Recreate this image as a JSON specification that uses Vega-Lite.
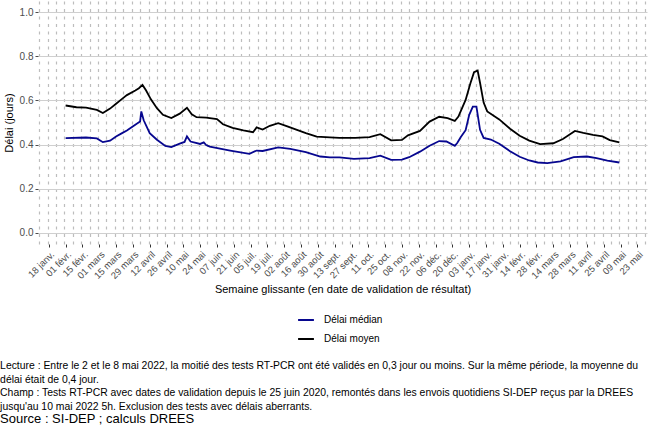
{
  "$schema": "https://vega.github.io/schema/vega-lite/v6.json",
  "width": 609,
  "height": 243,
  "autosize": "none",
  "padding": {"left": 38, "top": 1, "right": 5, "bottom": 182},
  "background": "white",
  "config": {
    "font": "Liberation Sans",
    "view": {"stroke": null},
    "axis": {"labelFont": "Liberation Sans", "titleFont": "Liberation Sans"},
    "legend": {"labelFont": "Liberation Sans"}
  },
  "title": {
    "text": [
      "Lecture : Entre le 2 et le 8 mai 2022, la moitié des tests RT-PCR ont été validés en 0,3 jour ou moins. Sur la même période, la moyenne du",
      "délai était de 0,4 jour.",
      "Champ : Tests RT-PCR avec dates de validation depuis le 25 juin 2020, remontés dans les envois quotidiens SI-DEP reçus par la DREES",
      "jusqu'au 10 mai 2022 5h. Exclusion des tests avec délais aberrants."
    ],
    "subtitle": "Source : SI-DEP ; calculs DREES",
    "orient": "bottom",
    "anchor": "start",
    "frame": "bounds",
    "fontSize": 10.4,
    "fontWeight": "normal",
    "lineHeight": 13.6,
    "color": "#000000",
    "subtitleFontSize": 13,
    "subtitleColor": "#000000",
    "subtitlePadding": 1,
    "offset": 17,
    "dx": -3
  },
  "data": {
    "values": [
      {"date": "2021-02-01", "serie": "Délai moyen", "valeur": 0.577},
      {"date": "2021-02-10", "serie": "Délai moyen", "valeur": 0.569},
      {"date": "2021-02-18", "serie": "Délai moyen", "valeur": 0.567},
      {"date": "2021-02-27", "serie": "Délai moyen", "valeur": 0.557},
      {"date": "2021-03-04", "serie": "Délai moyen", "valeur": 0.543},
      {"date": "2021-03-10", "serie": "Délai moyen", "valeur": 0.563},
      {"date": "2021-03-15", "serie": "Délai moyen", "valeur": 0.585},
      {"date": "2021-03-20", "serie": "Délai moyen", "valeur": 0.607},
      {"date": "2021-03-24", "serie": "Délai moyen", "valeur": 0.624},
      {"date": "2021-03-31", "serie": "Délai moyen", "valeur": 0.645},
      {"date": "2021-04-03", "serie": "Délai moyen", "valeur": 0.655},
      {"date": "2021-04-06", "serie": "Délai moyen", "valeur": 0.670},
      {"date": "2021-04-09", "serie": "Délai moyen", "valeur": 0.645},
      {"date": "2021-04-13", "serie": "Délai moyen", "valeur": 0.605},
      {"date": "2021-04-18", "serie": "Délai moyen", "valeur": 0.565},
      {"date": "2021-04-23", "serie": "Délai moyen", "valeur": 0.535},
      {"date": "2021-04-30", "serie": "Délai moyen", "valeur": 0.520},
      {"date": "2021-05-07", "serie": "Délai moyen", "valeur": 0.540},
      {"date": "2021-05-13", "serie": "Délai moyen", "valeur": 0.567},
      {"date": "2021-05-17", "serie": "Délai moyen", "valeur": 0.537},
      {"date": "2021-05-21", "serie": "Délai moyen", "valeur": 0.524},
      {"date": "2021-05-29", "serie": "Délai moyen", "valeur": 0.522},
      {"date": "2021-06-07", "serie": "Délai moyen", "valeur": 0.515},
      {"date": "2021-06-12", "serie": "Délai moyen", "valeur": 0.492},
      {"date": "2021-06-20", "serie": "Délai moyen", "valeur": 0.476},
      {"date": "2021-06-29", "serie": "Délai moyen", "valeur": 0.464},
      {"date": "2021-07-07", "serie": "Délai moyen", "valeur": 0.456},
      {"date": "2021-07-10", "serie": "Délai moyen", "valeur": 0.478},
      {"date": "2021-07-15", "serie": "Délai moyen", "valeur": 0.468},
      {"date": "2021-07-21", "serie": "Délai moyen", "valeur": 0.485},
      {"date": "2021-07-28", "serie": "Délai moyen", "valeur": 0.497},
      {"date": "2021-08-04", "serie": "Délai moyen", "valeur": 0.484},
      {"date": "2021-08-12", "serie": "Délai moyen", "valeur": 0.468},
      {"date": "2021-08-20", "serie": "Délai moyen", "valeur": 0.452},
      {"date": "2021-08-29", "serie": "Délai moyen", "valeur": 0.436},
      {"date": "2021-09-09", "serie": "Délai moyen", "valeur": 0.433},
      {"date": "2021-09-17", "serie": "Délai moyen", "valeur": 0.430},
      {"date": "2021-09-30", "serie": "Délai moyen", "valeur": 0.430},
      {"date": "2021-10-12", "serie": "Délai moyen", "valeur": 0.434},
      {"date": "2021-10-21", "serie": "Délai moyen", "valeur": 0.447},
      {"date": "2021-10-30", "serie": "Délai moyen", "valeur": 0.419},
      {"date": "2021-11-08", "serie": "Délai moyen", "valeur": 0.421},
      {"date": "2021-11-13", "serie": "Délai moyen", "valeur": 0.442},
      {"date": "2021-11-23", "serie": "Délai moyen", "valeur": 0.462},
      {"date": "2021-12-01", "serie": "Délai moyen", "valeur": 0.504},
      {"date": "2021-12-09", "serie": "Délai moyen", "valeur": 0.526},
      {"date": "2021-12-16", "serie": "Délai moyen", "valeur": 0.520},
      {"date": "2021-12-22", "serie": "Délai moyen", "valeur": 0.507},
      {"date": "2021-12-25", "serie": "Délai moyen", "valeur": 0.527},
      {"date": "2021-12-31", "serie": "Délai moyen", "valeur": 0.602},
      {"date": "2022-01-04", "serie": "Délai moyen", "valeur": 0.678},
      {"date": "2022-01-07", "serie": "Délai moyen", "valeur": 0.728},
      {"date": "2022-01-10", "serie": "Délai moyen", "valeur": 0.735},
      {"date": "2022-01-12", "serie": "Délai moyen", "valeur": 0.680},
      {"date": "2022-01-15", "serie": "Délai moyen", "valeur": 0.590},
      {"date": "2022-01-18", "serie": "Délai moyen", "valeur": 0.550},
      {"date": "2022-01-28", "serie": "Délai moyen", "valeur": 0.514},
      {"date": "2022-02-06", "serie": "Délai moyen", "valeur": 0.472},
      {"date": "2022-02-14", "serie": "Délai moyen", "valeur": 0.440},
      {"date": "2022-02-22", "serie": "Délai moyen", "valeur": 0.418},
      {"date": "2022-03-03", "serie": "Délai moyen", "valeur": 0.402},
      {"date": "2022-03-14", "serie": "Délai moyen", "valeur": 0.406},
      {"date": "2022-03-22", "serie": "Délai moyen", "valeur": 0.425},
      {"date": "2022-04-01", "serie": "Délai moyen", "valeur": 0.462},
      {"date": "2022-04-08", "serie": "Délai moyen", "valeur": 0.453},
      {"date": "2022-04-16", "serie": "Délai moyen", "valeur": 0.444},
      {"date": "2022-04-24", "serie": "Délai moyen", "valeur": 0.437},
      {"date": "2022-04-30", "serie": "Délai moyen", "valeur": 0.420},
      {"date": "2022-05-08", "serie": "Délai moyen", "valeur": 0.410},
      {"date": "2021-02-01", "serie": "Délai médian", "valeur": 0.429},
      {"date": "2021-02-18", "serie": "Délai médian", "valeur": 0.432},
      {"date": "2021-02-27", "serie": "Délai médian", "valeur": 0.428},
      {"date": "2021-03-04", "serie": "Délai médian", "valeur": 0.411},
      {"date": "2021-03-10", "serie": "Délai médian", "valeur": 0.418},
      {"date": "2021-03-15", "serie": "Délai médian", "valeur": 0.437},
      {"date": "2021-03-20", "serie": "Délai médian", "valeur": 0.452},
      {"date": "2021-03-24", "serie": "Délai médian", "valeur": 0.464},
      {"date": "2021-03-31", "serie": "Délai médian", "valeur": 0.490},
      {"date": "2021-04-04", "serie": "Délai médian", "valeur": 0.505},
      {"date": "2021-04-05", "serie": "Délai médian", "valeur": 0.550},
      {"date": "2021-04-07", "serie": "Délai médian", "valeur": 0.510},
      {"date": "2021-04-12", "serie": "Délai médian", "valeur": 0.452},
      {"date": "2021-04-18", "serie": "Délai médian", "valeur": 0.422},
      {"date": "2021-04-25", "serie": "Délai médian", "valeur": 0.394},
      {"date": "2021-04-30", "serie": "Délai médian", "valeur": 0.389},
      {"date": "2021-05-07", "serie": "Délai médian", "valeur": 0.404},
      {"date": "2021-05-11", "serie": "Délai médian", "valeur": 0.412},
      {"date": "2021-05-13", "serie": "Délai médian", "valeur": 0.437},
      {"date": "2021-05-16", "serie": "Délai médian", "valeur": 0.414},
      {"date": "2021-05-24", "serie": "Délai médian", "valeur": 0.403},
      {"date": "2021-05-27", "serie": "Délai médian", "valeur": 0.410},
      {"date": "2021-05-29", "serie": "Délai médian", "valeur": 0.398},
      {"date": "2021-06-01", "serie": "Délai médian", "valeur": 0.391},
      {"date": "2021-06-18", "serie": "Délai médian", "valeur": 0.373},
      {"date": "2021-07-04", "serie": "Délai médian", "valeur": 0.358},
      {"date": "2021-07-10", "serie": "Délai médian", "valeur": 0.373},
      {"date": "2021-07-15", "serie": "Délai médian", "valeur": 0.371},
      {"date": "2021-07-28", "serie": "Délai médian", "valeur": 0.387},
      {"date": "2021-08-07", "serie": "Délai médian", "valeur": 0.381},
      {"date": "2021-08-20", "serie": "Délai médian", "valeur": 0.366},
      {"date": "2021-09-01", "serie": "Délai médian", "valeur": 0.346},
      {"date": "2021-09-09", "serie": "Délai médian", "valeur": 0.342},
      {"date": "2021-09-17", "serie": "Délai médian", "valeur": 0.342},
      {"date": "2021-09-29", "serie": "Délai médian", "valeur": 0.335},
      {"date": "2021-10-12", "serie": "Délai médian", "valeur": 0.339},
      {"date": "2021-10-21", "serie": "Délai médian", "valeur": 0.350},
      {"date": "2021-10-30", "serie": "Délai médian", "valeur": 0.331},
      {"date": "2021-11-08", "serie": "Délai médian", "valeur": 0.332},
      {"date": "2021-11-14", "serie": "Délai médian", "valeur": 0.343},
      {"date": "2021-11-23", "serie": "Délai médian", "valeur": 0.368},
      {"date": "2021-12-01", "serie": "Délai médian", "valeur": 0.395},
      {"date": "2021-12-09", "serie": "Délai médian", "valeur": 0.416},
      {"date": "2021-12-15", "serie": "Délai médian", "valeur": 0.414},
      {"date": "2021-12-22", "serie": "Délai médian", "valeur": 0.394},
      {"date": "2021-12-24", "serie": "Délai médian", "valeur": 0.407},
      {"date": "2021-12-27", "serie": "Délai médian", "valeur": 0.434},
      {"date": "2021-12-31", "serie": "Délai médian", "valeur": 0.465},
      {"date": "2022-01-03", "serie": "Délai médian", "valeur": 0.535},
      {"date": "2022-01-06", "serie": "Délai médian", "valeur": 0.572},
      {"date": "2022-01-09", "serie": "Délai médian", "valeur": 0.572},
      {"date": "2022-01-12", "serie": "Délai médian", "valeur": 0.467},
      {"date": "2022-01-15", "serie": "Délai médian", "valeur": 0.430},
      {"date": "2022-01-21", "serie": "Délai médian", "valeur": 0.423},
      {"date": "2022-01-28", "serie": "Délai médian", "valeur": 0.404},
      {"date": "2022-02-06", "serie": "Délai médian", "valeur": 0.370},
      {"date": "2022-02-14", "serie": "Délai médian", "valeur": 0.345},
      {"date": "2022-02-22", "serie": "Délai médian", "valeur": 0.328},
      {"date": "2022-03-01", "serie": "Délai médian", "valeur": 0.319},
      {"date": "2022-03-09", "serie": "Délai médian", "valeur": 0.316},
      {"date": "2022-03-20", "serie": "Délai médian", "valeur": 0.324},
      {"date": "2022-03-31", "serie": "Délai médian", "valeur": 0.343},
      {"date": "2022-04-11", "serie": "Délai médian", "valeur": 0.346},
      {"date": "2022-04-19", "serie": "Délai médian", "valeur": 0.339},
      {"date": "2022-04-28", "serie": "Délai médian", "valeur": 0.327},
      {"date": "2022-05-08", "serie": "Délai médian", "valeur": 0.319}
    ]
  },
  "encoding": {
    "y": {
      "field": "valeur",
      "type": "quantitative",
      "scale": {"domain": [-0.05, 1.05], "nice": false, "zero": false},
      "axis": {
        "values": [0, 0.2, 0.4, 0.6, 0.8, 1.0],
        "format": ".1f",
        "title": "Délai (jours)",
        "titleFontSize": 11,
        "titleFontWeight": "normal",
        "titleColor": "#000000",
        "titlePadding": 5,
        "labelFontSize": 10,
        "labelColor": "#4d4d4d",
        "labelPadding": 2,
        "tickColor": "#4d4d4d",
        "tickSize": 3,
        "domain": false,
        "grid": true,
        "gridColor": "#cfcfcf",
        "gridWidth": 1
      }
    },
    "color": {
      "field": "serie",
      "type": "nominal",
      "scale": {"domain": ["Délai médian", "Délai moyen"], "range": ["#07078f", "#000000"]},
      "legend": {
        "orient": "none",
        "legendX": 259,
        "legendY": 310,
        "title": null,
        "direction": "vertical",
        "symbolType": "stroke",
        "symbolStrokeWidth": 2,
        "symbolSize": 250,
        "labelFontSize": 10,
        "labelColor": "#000000",
        "rowPadding": 5,
        "labelOffset": 9
      }
    }
  },
  "layer": [
    {
      "transform": [{"filter": "datum.serie == 'Délai moyen'"}],
      "mark": {"type": "line", "strokeWidth": 1.8},
      "encoding": {
        "x": {
          "field": "date",
          "type": "temporal",
          "scale": {
            "type": "utc",
            "domain": [
              {"year": 2021, "month": 1, "date": 9, "utc": true},
              {"year": 2022, "month": 5, "date": 31, "utc": true}
            ]
          },
          "axis": {
            "orient": "top",
            "tickCount": {"interval": "week", "step": 1},
            "labels": false,
            "ticks": false,
            "domain": false,
            "title": null,
            "grid": true,
            "gridColor": "#bdbdbd",
            "gridDash": [3, 4.5],
            "gridWidth": 1.2
          }
        }
      }
    },
    {
      "transform": [{"filter": "datum.serie == 'Délai médian'"}],
      "mark": {"type": "line", "strokeWidth": 1.8},
      "encoding": {
        "x": {
          "field": "date",
          "type": "temporal",
          "scale": {
            "type": "utc",
            "domain": [
              {"year": 2021, "month": 1, "date": 9, "utc": true},
              {"year": 2022, "month": 5, "date": 31, "utc": true}
            ]
          },
          "axis": {
            "orient": "bottom",
            "values": [
              {"year": 2021, "month": 1, "date": 18, "utc": true},
              {"year": 2021, "month": 2, "date": 1, "utc": true},
              {"year": 2021, "month": 2, "date": 15, "utc": true},
              {"year": 2021, "month": 3, "date": 1, "utc": true},
              {"year": 2021, "month": 3, "date": 15, "utc": true},
              {"year": 2021, "month": 3, "date": 29, "utc": true},
              {"year": 2021, "month": 4, "date": 12, "utc": true},
              {"year": 2021, "month": 4, "date": 26, "utc": true},
              {"year": 2021, "month": 5, "date": 10, "utc": true},
              {"year": 2021, "month": 5, "date": 24, "utc": true},
              {"year": 2021, "month": 6, "date": 7, "utc": true},
              {"year": 2021, "month": 6, "date": 21, "utc": true},
              {"year": 2021, "month": 7, "date": 5, "utc": true},
              {"year": 2021, "month": 7, "date": 19, "utc": true},
              {"year": 2021, "month": 8, "date": 2, "utc": true},
              {"year": 2021, "month": 8, "date": 16, "utc": true},
              {"year": 2021, "month": 8, "date": 30, "utc": true},
              {"year": 2021, "month": 9, "date": 13, "utc": true},
              {"year": 2021, "month": 9, "date": 27, "utc": true},
              {"year": 2021, "month": 10, "date": 11, "utc": true},
              {"year": 2021, "month": 10, "date": 25, "utc": true},
              {"year": 2021, "month": 11, "date": 8, "utc": true},
              {"year": 2021, "month": 11, "date": 22, "utc": true},
              {"year": 2021, "month": 12, "date": 6, "utc": true},
              {"year": 2021, "month": 12, "date": 20, "utc": true},
              {"year": 2022, "month": 1, "date": 3, "utc": true},
              {"year": 2022, "month": 1, "date": 17, "utc": true},
              {"year": 2022, "month": 1, "date": 31, "utc": true},
              {"year": 2022, "month": 2, "date": 14, "utc": true},
              {"year": 2022, "month": 2, "date": 28, "utc": true},
              {"year": 2022, "month": 3, "date": 14, "utc": true},
              {"year": 2022, "month": 3, "date": 28, "utc": true},
              {"year": 2022, "month": 4, "date": 11, "utc": true},
              {"year": 2022, "month": 4, "date": 25, "utc": true},
              {"year": 2022, "month": 5, "date": 9, "utc": true},
              {"year": 2022, "month": 5, "date": 23, "utc": true}
            ],
            "labelExpr": "utcFormat(datum.value, '%d') + ' ' + ['janv.','févr.','mars','avril','mai','juin','juil.','août','sept.','oct.','nov.','déc.'][utcmonth(datum.value)]",
            "labelAngle": -45,
            "labelAlign": "right",
            "labelBaseline": "top",
            "labelFontSize": 9.5,
            "labelColor": "#4d4d4d",
            "labelPadding": 2,
            "labelOverlap": false,
            "labelBound": false,
            "labelFlush": false,
            "ticks": true,
            "tickColor": "#333333",
            "tickSize": 3,
            "domain": false,
            "grid": false,
            "title": "Semaine glissante (en date de validation de résultat)",
            "titleFontSize": 11,
            "titleFontWeight": "normal",
            "titleColor": "#000000",
            "titlePadding": 4
          }
        }
      }
    }
  ],
  "resolve": {"axis": {"x": "independent"}}
}
